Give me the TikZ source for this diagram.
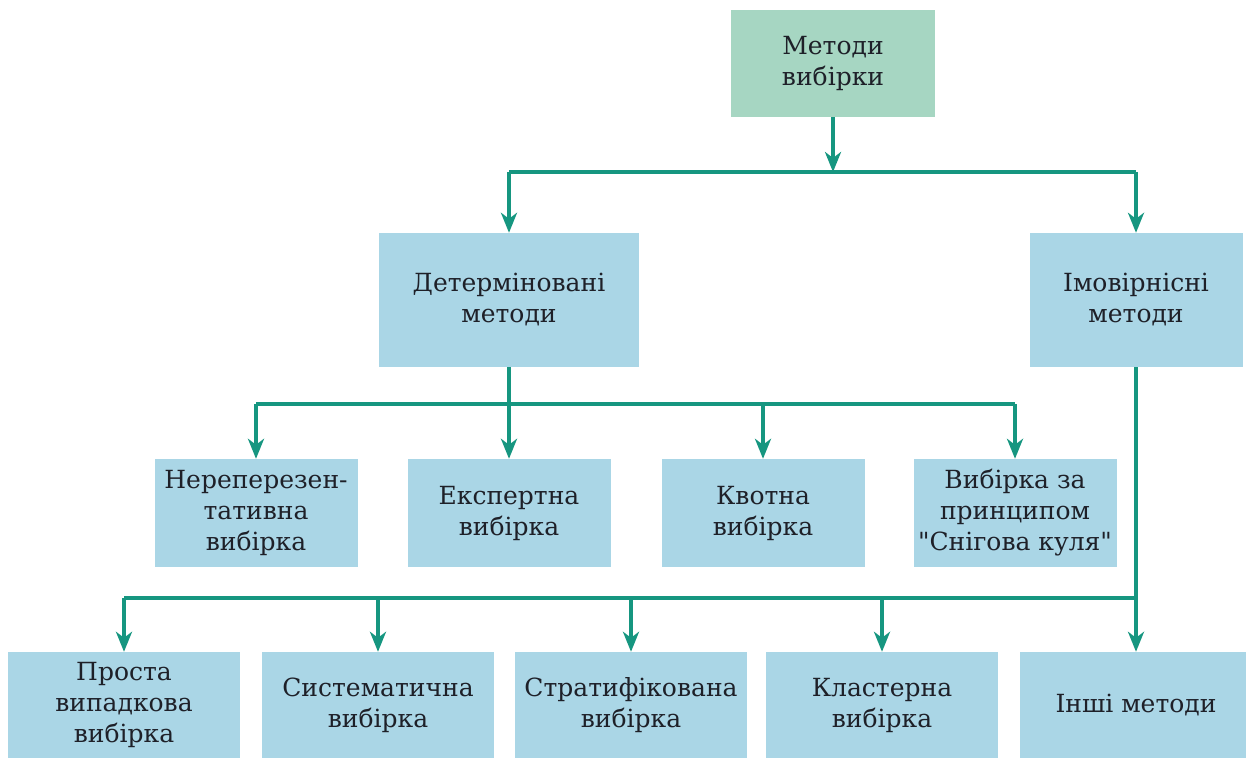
\documentclass[tikz,border=0pt]{standalone}
\usepackage{fontspec}
\newfontfamily\boxfont{DejaVu Serif}
\usepackage{tikz}
\usetikzlibrary{arrows.meta,positioning,calc}
\definecolor{mLine}{RGB}{22,150,128}
\definecolor{mBlue}{RGB}{170,214,230}
\definecolor{mGreen}{RGB}{166,214,194}
\definecolor{mText}{RGB}{30,32,40}

\begin{document}
\begin{tikzpicture}[x=1pt,y=-1pt,
    box/.style={fill=mBlue, align=center, inner sep=0pt, text=mText,
      font=\boxfont\fontsize{25}{31}\selectfont, minimum width=203pt, minimum height=108pt},
    topbox/.style={box, fill=mGreen, minimum width=204pt, minimum height=107pt},
    bigbox/.style={box, minimum height=134pt},
    lowbox/.style={box, minimum width=232pt, minimum height=106pt},
    conn/.style={draw=mLine, line width=3.5pt},
    arr/.style={conn, -{Stealth[length=20pt,width=16pt,inset=6pt]}}]
        \useasboundingbox (0,0) rectangle (1246,758);
        \node[topbox] (top) at (833,63.5) {Методи\\вибірки};
        \node[bigbox, minimum width=260pt] (det) at (509,300) {Детерміновані\\методи};
        \node[bigbox, minimum width=213pt] (imov) at (1136,300) {Імовірнісні\\методи};
        \node[box] (d1) at (256,513) {Нереперезен-\\тативна\\вибірка};
        \node[box] (d2) at (509,513) {Експертна\\вибірка};
        \node[box] (d3) at (763,513) {Квотна\\вибірка};
        \node[box] (d4) at (1015,513) {Вибірка за\\принципом\\"Снігова куля"};
        \node[lowbox] (p1) at (124,705) {Проста\\випадкова\\вибірка};
        \node[lowbox] (p2) at (378,705) {Систематична\\вибірка};
        \node[lowbox] (p3) at (631,705) {Стратифікована\\вибірка};
        \node[lowbox] (p4) at (882,705) {Кластерна\\вибірка};
        \node[lowbox] (p5) at (1136,705) {Інші методи};
        \coordinate (s1) at (833,172);
        \coordinate (s2) at (509,404);
        \coordinate (s3) at (1136,598);
        \draw[arr] (top.south) -- (s1);
        \draw[conn] (s1 -| det.north) -- (s1 -| imov.north);
        \draw[arr] (s1 -| det.north) -- (det.north);
        \draw[arr] (s1 -| imov.north) -- (imov.north);
        \draw[conn] (det.south) -- (s2);
        \draw[conn] (s2 -| d1.north) -- (s2 -| d4.north);
        \foreach \n in {d1,d2,d3,d4}
          \draw[arr] (s2 -| \n.north) -- (\n.north);
        \draw[conn] (imov.south) -- (s3);
        \draw[conn] (s3 -| p1.north) -- (s3);
        \foreach \n in {p1,p2,p3,p4,p5}
          \draw[arr] (s3 -| \n.north) -- (\n.north);
      \end{tikzpicture}
\end{document}
